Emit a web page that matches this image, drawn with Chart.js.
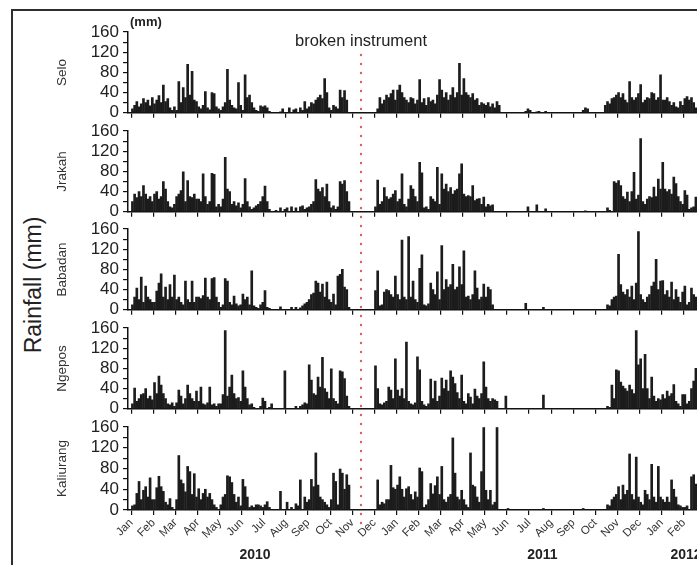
<!DOCTYPE html>
<html>
<head>
<meta charset="utf-8">
<script src="https://cdn.jsdelivr.net/npm/chart.js@4.4.1/dist/chart.umd.min.js"></script>
<style>
html, body { margin: 0; padding: 0; background: #fff; width: 697px; height: 565px; overflow: hidden; }
#frame { position: absolute; left: 11px; top: 9px; width: 900px; height: 800px; border-left: 2.5px solid #2e2e2e; border-top: 2.5px solid #2e2e2e; }
#ylabel { position: absolute; left: 33px; top: 285px; transform: translate(-50%, -50%) rotate(-90deg); font: 23px "Liberation Sans", Arial, sans-serif; color: #222; white-space: nowrap; }
</style>
</head>
<body>
<div id="frame"></div>
<div id="ylabel">Rainfall (mm)</div>
<script>
// months on the x axis, Jan 2010 .. Feb 2012 (one tick per month)
const monthLabels = ['Jan','Feb','Mar','Apr','May','Jun','Jul','Aug','Sep','Oct','Nov','Dec',
                     'Jan','Feb','Mar','Apr','May','Jun','Jul','Aug','Sep','Oct','Nov','Dec',
                     'Jan','Feb'];
const yearLabels = ['2010', '2011', '2012'];
const yearAt = [5.6, 18.6, 25.1];
const brokenAt = 10.4;
const brokenText = 'broken instrument';
const stations = ['Selo', 'Jrakah', 'Babadan', 'Ngepos', 'Kaliurang'];
const yTicks = [0, 20, 40, 60, 80, 100, 120, 140, 160];

// rainfall (mm), 10 values per month (≈3-day steps), one row per month
const seloRain = [
  8,15,22,12,18,28,20,25,14,30,
  18,25,34,20,55,22,28,10,5,12,
  5,62,20,50,30,96,35,82,25,22,
  12,8,15,42,10,6,40,38,12,8,
  5,12,20,86,25,15,10,8,60,15,
  5,75,30,35,20,10,5,3,14,12,
  14,10,3,0,0,0,0,2,8,0,
  0,10,0,6,8,0,10,5,22,8,
  12,20,18,25,30,35,28,68,40,10,
  5,15,12,8,45,30,44,25,0,0,
  0,0,0,0,0,0,0,0,0,0,
  0,8,30,18,25,35,30,38,45,25,
  45,55,40,30,25,20,30,28,18,25,
  66,20,28,15,30,22,25,18,35,66,
  45,30,40,25,35,50,30,40,98,35,
  68,40,35,30,38,25,28,15,20,18,
  15,20,12,18,10,22,15,0,0,0,
  0,0,0,0,0,0,0,0,3,8,
  5,0,0,2,3,0,0,3,0,0,
  0,0,0,0,0,0,0,0,0,0,
  0,0,0,0,5,10,8,0,0,0,
  0,0,0,0,15,22,18,28,30,35,
  40,30,38,25,20,62,30,25,30,38,
  56,20,25,30,28,40,38,25,30,75,
  25,25,30,22,15,20,12,10,22,15,
  28,32,25,30,20,10
];
const jrakahRain = [
  20,35,28,40,30,52,35,25,30,20,
  35,40,25,30,60,45,20,10,8,15,
  30,35,42,79,20,62,30,28,35,25,
  25,20,75,30,15,20,76,74,10,15,
  10,25,108,45,40,15,20,12,18,8,
  15,66,20,10,5,8,12,15,20,30,
  51,20,5,0,0,3,0,8,0,5,
  8,0,10,0,8,0,10,12,5,8,
  10,15,20,64,45,40,48,30,55,20,
  8,12,5,10,60,55,62,40,20,0,
  0,0,0,0,0,0,0,0,0,0,
  10,63,15,20,48,30,25,28,35,42,
  20,25,75,15,10,25,52,45,30,20,
  98,77,8,10,5,30,25,20,88,15,
  75,45,55,40,48,35,42,45,75,95,
  35,30,32,30,52,22,25,26,15,29,
  10,15,12,14,0,0,0,0,0,0,
  0,0,0,0,0,0,0,0,0,10,
  0,0,0,14,0,0,0,6,0,0,
  0,0,0,0,0,0,0,0,0,0,
  0,0,0,0,0,2,0,0,0,0,
  0,0,0,0,0,8,3,0,60,57,
  62,52,30,25,39,20,40,78,25,33,
  145,20,15,25,30,28,49,30,65,45,
  98,45,40,44,35,69,56,30,20,15,
  42,33,5,8,10,29
];
const babadanRain = [
  10,25,43,20,65,15,47,25,20,15,
  15,37,53,71,25,45,20,50,25,69,
  20,25,15,10,57,20,15,57,15,25,
  25,22,28,63,25,20,62,64,25,15,
  5,10,62,57,15,10,27,12,8,10,
  31,20,25,10,77,8,5,3,10,15,
  38,5,3,0,0,0,0,6,0,0,
  0,0,5,0,5,0,4,8,12,15,
  20,30,33,57,53,35,51,25,55,20,
  15,31,10,67,70,80,45,40,5,0,
  0,0,0,0,0,0,0,0,0,0,
  38,77,8,10,35,40,38,30,25,67,
  30,20,138,25,20,145,25,57,20,15,
  82,109,10,8,12,53,40,30,75,20,
  127,40,60,45,50,90,40,45,85,50,
  117,25,27,20,30,77,43,20,25,51,
  25,45,40,10,0,0,0,0,0,0,
  0,0,0,0,0,0,0,0,13,0,
  0,0,0,0,0,0,5,0,0,0,
  0,0,0,0,0,0,0,0,0,0,
  0,0,0,0,0,0,0,0,0,0,
  0,0,0,0,0,10,8,20,25,27,
  110,50,35,30,40,25,47,20,53,155,
  30,20,15,25,30,47,55,100,40,57,
  58,30,38,25,55,20,40,25,15,35,
  47,10,15,43,30,25
];
const ngeposRain = [
  10,41,15,20,28,30,40,20,25,18,
  52,30,65,47,30,20,10,8,12,5,
  12,37,25,10,20,47,30,20,15,35,
  15,43,10,8,12,43,8,10,5,10,
  10,28,155,25,43,67,30,20,22,15,
  75,43,20,8,10,3,0,0,5,21,
  15,0,3,10,0,0,0,0,0,75,
  0,0,0,0,5,0,5,8,12,10,
  87,57,30,27,63,43,102,40,33,20,
  79,20,15,10,75,73,60,25,5,0,
  0,0,0,0,0,0,0,0,0,0,
  85,40,10,8,12,15,43,37,20,99,
  37,25,40,20,132,15,10,8,12,103,
  77,15,8,5,10,59,20,55,15,25,
  61,40,57,35,75,63,50,32,20,67,
  15,10,30,23,10,39,25,20,30,93,
  43,20,15,20,18,15,0,0,0,25,
  0,0,0,0,0,0,0,0,0,0,
  0,0,0,0,0,0,27,0,0,0,
  0,0,0,0,0,0,0,0,0,0,
  0,0,0,0,0,0,0,0,0,0,
  0,0,0,0,0,5,3,47,20,77,
  75,53,45,40,35,47,38,30,155,87,
  99,40,108,40,20,63,25,15,20,18,
  28,20,35,25,30,48,15,10,5,28,
  28,10,15,40,55,80
];
const kaliurangRain = [
  8,10,32,55,20,38,45,25,62,20,
  20,43,65,45,36,15,10,22,5,0,
  20,105,58,51,35,84,74,30,70,25,
  41,20,32,40,25,32,20,10,5,0,
  10,25,30,66,64,53,30,15,25,8,
  59,45,25,5,8,5,10,10,8,5,
  10,16,5,0,0,0,0,36,0,0,
  15,0,5,0,12,8,58,0,25,15,
  20,59,45,110,48,25,20,15,10,5,
  20,71,55,10,79,71,40,68,48,0,
  0,0,0,0,0,0,0,0,0,0,
  0,58,10,15,12,20,20,86,43,40,
  48,64,40,25,41,45,30,20,35,25,
  81,74,5,10,20,51,31,47,64,30,
  84,20,15,25,30,139,71,25,20,38,
  20,10,5,110,48,45,25,15,74,159,
  38,20,38,10,15,159,0,0,0,0,
  3,0,0,0,0,0,0,0,0,0,
  0,0,0,0,0,0,3,0,0,0,
  0,0,0,0,0,0,0,0,0,0,
  0,0,0,0,3,0,0,0,0,0,
  0,0,0,0,0,10,8,20,25,30,
  45,20,48,30,38,108,30,20,102,25,
  15,10,38,30,20,88,25,15,84,25,
  20,15,25,15,58,40,25,10,8,5,
  5,8,0,64,68,50
];
const rainByStation = [seloRain, jrakahRain, babadanRain, ngeposRain, kaliurangRain];

Chart.defaults.font.family = "'Liberation Sans', Arial, sans-serif";

const panelZero = [115, 214, 312, 411, 510];
const plotH = 83;
const dotStart = 55, dotEnd = 527, dotGap = 9;

function panelTop(i) {
    return panelZero[i] - plotH - (i === 0 ? 30 : 16);
}

stations.forEach((name, i) => {
    const last = i === stations.length - 1;
    const padTop = i === 0 ? 30 : 16;
    const axisH = last ? 56 : 12;
    const top = panelTop(i);
    const canvas = document.createElement('canvas');
    canvas.width = 697;
    canvas.height = padTop + plotH + axisH;
    canvas.style.cssText = `position:absolute;left:0;top:${top}px`;
    document.body.appendChild(canvas);

    const segFrom = i === 0 ? dotStart : top;
    const segTo = last ? dotEnd : panelTop(i + 1);

    const points = rainByStation[i]
        .map((v, k) => ({x: Math.floor(k / 10) + (k % 10 + 0.5) / 10, y: v}))
        .filter(p => p.y > 0);

    const marks = {
        id: 'marks',
        afterDraw(chart) {
            const ctx = chart.ctx;
            const xs = chart.scales.x;
            const area = chart.chartArea;
            const bx = Math.round(xs.getPixelForValue(brokenAt));
            ctx.save();
            // red dotted line for the broken instrument
            ctx.fillStyle = '#dc5f58';
            let y = dotStart + Math.ceil((segFrom - dotStart) / dotGap) * dotGap;
            for (; y < segTo; y += dotGap) {
                ctx.beginPath();
                ctx.arc(bx, y - top, 1.2, 0, Math.PI * 2);
                ctx.fill();
            }
            ctx.fillStyle = '#222';
            if (i === 0) {
                ctx.font = "16.5px 'Liberation Sans', Arial, sans-serif";
                ctx.textAlign = 'center';
                ctx.textBaseline = 'alphabetic';
                ctx.fillText(brokenText, bx, area.top + 14);
                ctx.font = "bold 13px 'Liberation Sans', Arial, sans-serif";
                ctx.textAlign = 'left';
                ctx.fillText('(mm)', area.left + 2, area.top - 6);
            }
            if (last) {
                ctx.font = "bold 14px 'Liberation Sans', Arial, sans-serif";
                ctx.textAlign = 'center';
                ctx.textBaseline = 'alphabetic';
                yearLabels.forEach((t, k) => {
                    ctx.fillText(t, xs.getPixelForValue(yearAt[k]), area.bottom + 49);
                });
            }
            ctx.restore();
        }
    };

    new Chart(canvas, {
        type: 'bar',
        data: {
            datasets: [{
                label: name,
                data: points,
                backgroundColor: '#1c1c1c',
                borderWidth: 0,
                barThickness: 2,
                grouped: false
            }]
        },
        options: {
            responsive: false,
            animation: false,
            devicePixelRatio: 1,
            layout: {padding: {top: padTop, bottom: 0, left: 0, right: 0}},
            plugins: {legend: {display: false}, tooltip: {enabled: false}},
            scales: {
                x: {
                    type: 'linear',
                    min: -0.15,
                    max: 25.6,
                    offset: false,
                    afterBuildTicks: s => { s.ticks = monthLabels.map((_, m) => ({value: m})); },
                    afterFit: s => { s.height = axisH; },
                    ticks: {
                        display: last,
                        autoSkip: false,
                        minRotation: 45,
                        maxRotation: 45,
                        padding: 1,
                        color: '#333',
                        font: {size: 11.5},
                        callback: (v, idx) => monthLabels[idx]
                    },
                    grid: {display: true, offset: false, drawOnChartArea: false, drawTicks: true, tickLength: 5, color: '#111', lineWidth: 1.2},
                    border: {display: true, color: '#111', width: 1.5}
                },
                y: {
                    min: 0,
                    max: 160,
                    afterBuildTicks: s => { s.ticks = yTicks.map(v => ({value: v})); },
                    afterFit: s => { s.width = 128; },
                    ticks: {
                        autoSkip: false,
                        padding: 4,
                        color: '#222',
                        font: {size: 17},
                        callback: v => (v % 40 === 0 ? String(v) : '')
                    },
                    grid: {drawOnChartArea: false, drawTicks: true, tickLength: 5, color: '#111', lineWidth: 1.2},
                    border: {color: '#111', width: 1.5},
                    title: {display: true, text: name, color: '#333', font: {size: 13.5}, padding: {top: 54, bottom: 0}}
                }
            }
        },
        plugins: [marks]
    });
});
</script>
</body>
</html>
